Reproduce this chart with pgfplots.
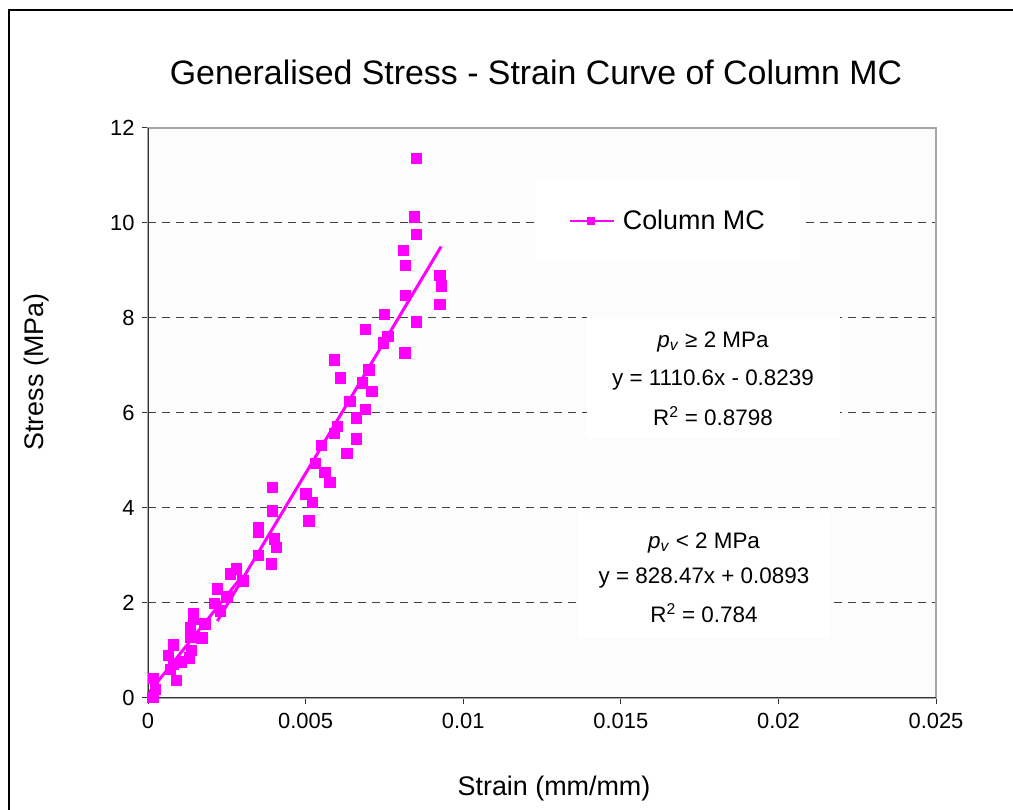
\documentclass[border=0pt]{standalone}
\usepackage{pgfplots}
\pgfplotsset{compat=1.18}
\usepackage{fontspec}
\setmainfont{Liberation Sans}
\definecolor{mag}{HTML}{FF00FF}
\begin{document}
\begin{tikzpicture}
\useasboundingbox (0,0) rectangle (1013bp,810bp);
\fill[white] (0,0) rectangle (1013bp,810bp);
\draw[black, line width=1.5bp] (9bp,0) -- (9bp,800bp) -- (1013bp,800bp);
\begin{axis}[
  at={(148bp,112bp)}, anchor=south west,
  scale only axis, width=788bp, height=570bp,
  xmin=0, xmax=0.025, ymin=0, ymax=12,
  xtick={0,0.005,0.01,0.015,0.02,0.025},
  xticklabels={0,0.005,0.01,0.015,0.02,0.025},
  ytick={0,2,4,6,8,10,12},
  scaled x ticks=false,
  tick pos=left, tick align=outside, major tick length=6bp,
  tick style={black!80, line width=1bp},
  ymajorgrids,
  grid style={black!75, line width=1bp, dash pattern=on 8bp off 6bp},
  axis line style={draw=gray!70, line width=2bp},
  axis background/.style={fill=black!1},
  ticklabel style={font=\fontsize{22}{26}\selectfont},
  xticklabel style={yshift=-6bp},
  yticklabel style={xshift=-4bp},
  /pgf/number format/assume math mode=true,
  legend style={at={(rel axis cs:0.66,0.837)}, anchor=center, draw=none, fill=white,
    font=\fontsize{27}{30}\selectfont, inner xsep=33bp, inner ysep=28bp,
    column sep=6bp},
  legend cell align=left,
  legend image code/.code={
    \draw[mag, line width=1.5bp] (0bp,0bp) -- (44bp,0bp);
    \fill[mag] (17bp,-3.5bp) rectangle (24bp,3.5bp);
  },
]
\addplot[only marks, mark=square*, mark size=5.2bp, color=mag] coordinates {
(0.00015,0.02) (0.00022,0.19) (0.00016,0.42) (0.0009,0.38) (0.0007,0.61)
(0.0008,0.72) (0.00105,0.76) (0.00064,0.90) (0.0008,1.12) (0.0013,0.85)
(0.00137,1.01) (0.0017,1.27) (0.00136,1.29) (0.00133,1.48) (0.00143,1.66)
(0.00143,1.79) (0.0018,1.56) (0.0021,2.00) (0.0023,1.84) (0.0022,2.30)
(0.0025,2.13) (0.0026,2.62) (0.0028,2.72) (0.0030,2.47) (0.0039,2.83)
(0.0035,3.00) (0.00406,3.17) (0.0040,3.35) (0.0035,3.49) (0.0035,3.59)
(0.0051,3.73) (0.00394,3.94) (0.0052,4.12) (0.0050,4.30) (0.00394,4.44)
(0.00577,4.54) (0.0056,4.75) (0.0053,4.94) (0.0063,5.15) (0.0055,5.32)
(0.0066,5.46) (0.0059,5.58) (0.0060,5.72) (0.0066,5.90) (0.0069,6.08)
(0.0064,6.25) (0.0071,6.46) (0.0068,6.64) (0.0070,6.91) (0.0061,6.74)
(0.0059,7.12) (0.00815,7.27) (0.00747,7.48) (0.0076,7.62) (0.0069,7.76)
(0.0085,7.92) (0.0075,8.08) (0.00925,8.29) (0.00816,8.48) (0.0093,8.68)
(0.00925,8.90) (0.00816,9.11) (0.0081,9.43) (0.0085,9.77) (0.00845,10.13)
(0.0085,11.36)
};
\addlegendentry{Column MC}
\addplot[mag, line width=3bp, no marks, forget plot] coordinates {(0.0022,1.6194) (0.0093,9.5047)};
\addplot[mag, line width=3bp, no marks, forget plot] coordinates {(0,0.0893) (0.003,2.5747)};
\draw[black!80, line width=1.5bp] (rel axis cs:0,1) -- (rel axis cs:0,0) -- (rel axis cs:1,0);
\end{axis}
\fill[white] (587bp,372bp) rectangle (840bp,493bp);
\fill[white] (578bp,172bp) rectangle (830bp,297bp);
\begin{scope}[every node/.style={font=\fontsize{22.5}{26}\selectfont, inner sep=0pt}]
\node at (713bp,468bp) {\textit{p}\textsubscript{\textit{v}} ≥ 2 MPa};
\node at (713bp,430bp) {y = 1110.6x - 0.8239};
\node at (713bp,394bp) {R\textsuperscript{2} = 0.8798};
\node at (704bp,267bp) {\textit{p}\textsubscript{\textit{v}} < 2 MPa};
\node at (704bp,232bp) {y = 828.47x + 0.0893};
\node at (704bp,197bp) {R\textsuperscript{2} = 0.784};
\end{scope}
\node[font=\fontsize{34}{38}\selectfont] at (536bp,738bp) {Generalised Stress - Strain Curve of Column MC};
\node[font=\fontsize{27}{30}\selectfont] at (554bp,21bp) {Strain (mm/mm)};
\node[font=\fontsize{27}{30}\selectfont, rotate=90] at (37bp,438bp) {Stress (MPa)};
\end{tikzpicture}
\end{document}
